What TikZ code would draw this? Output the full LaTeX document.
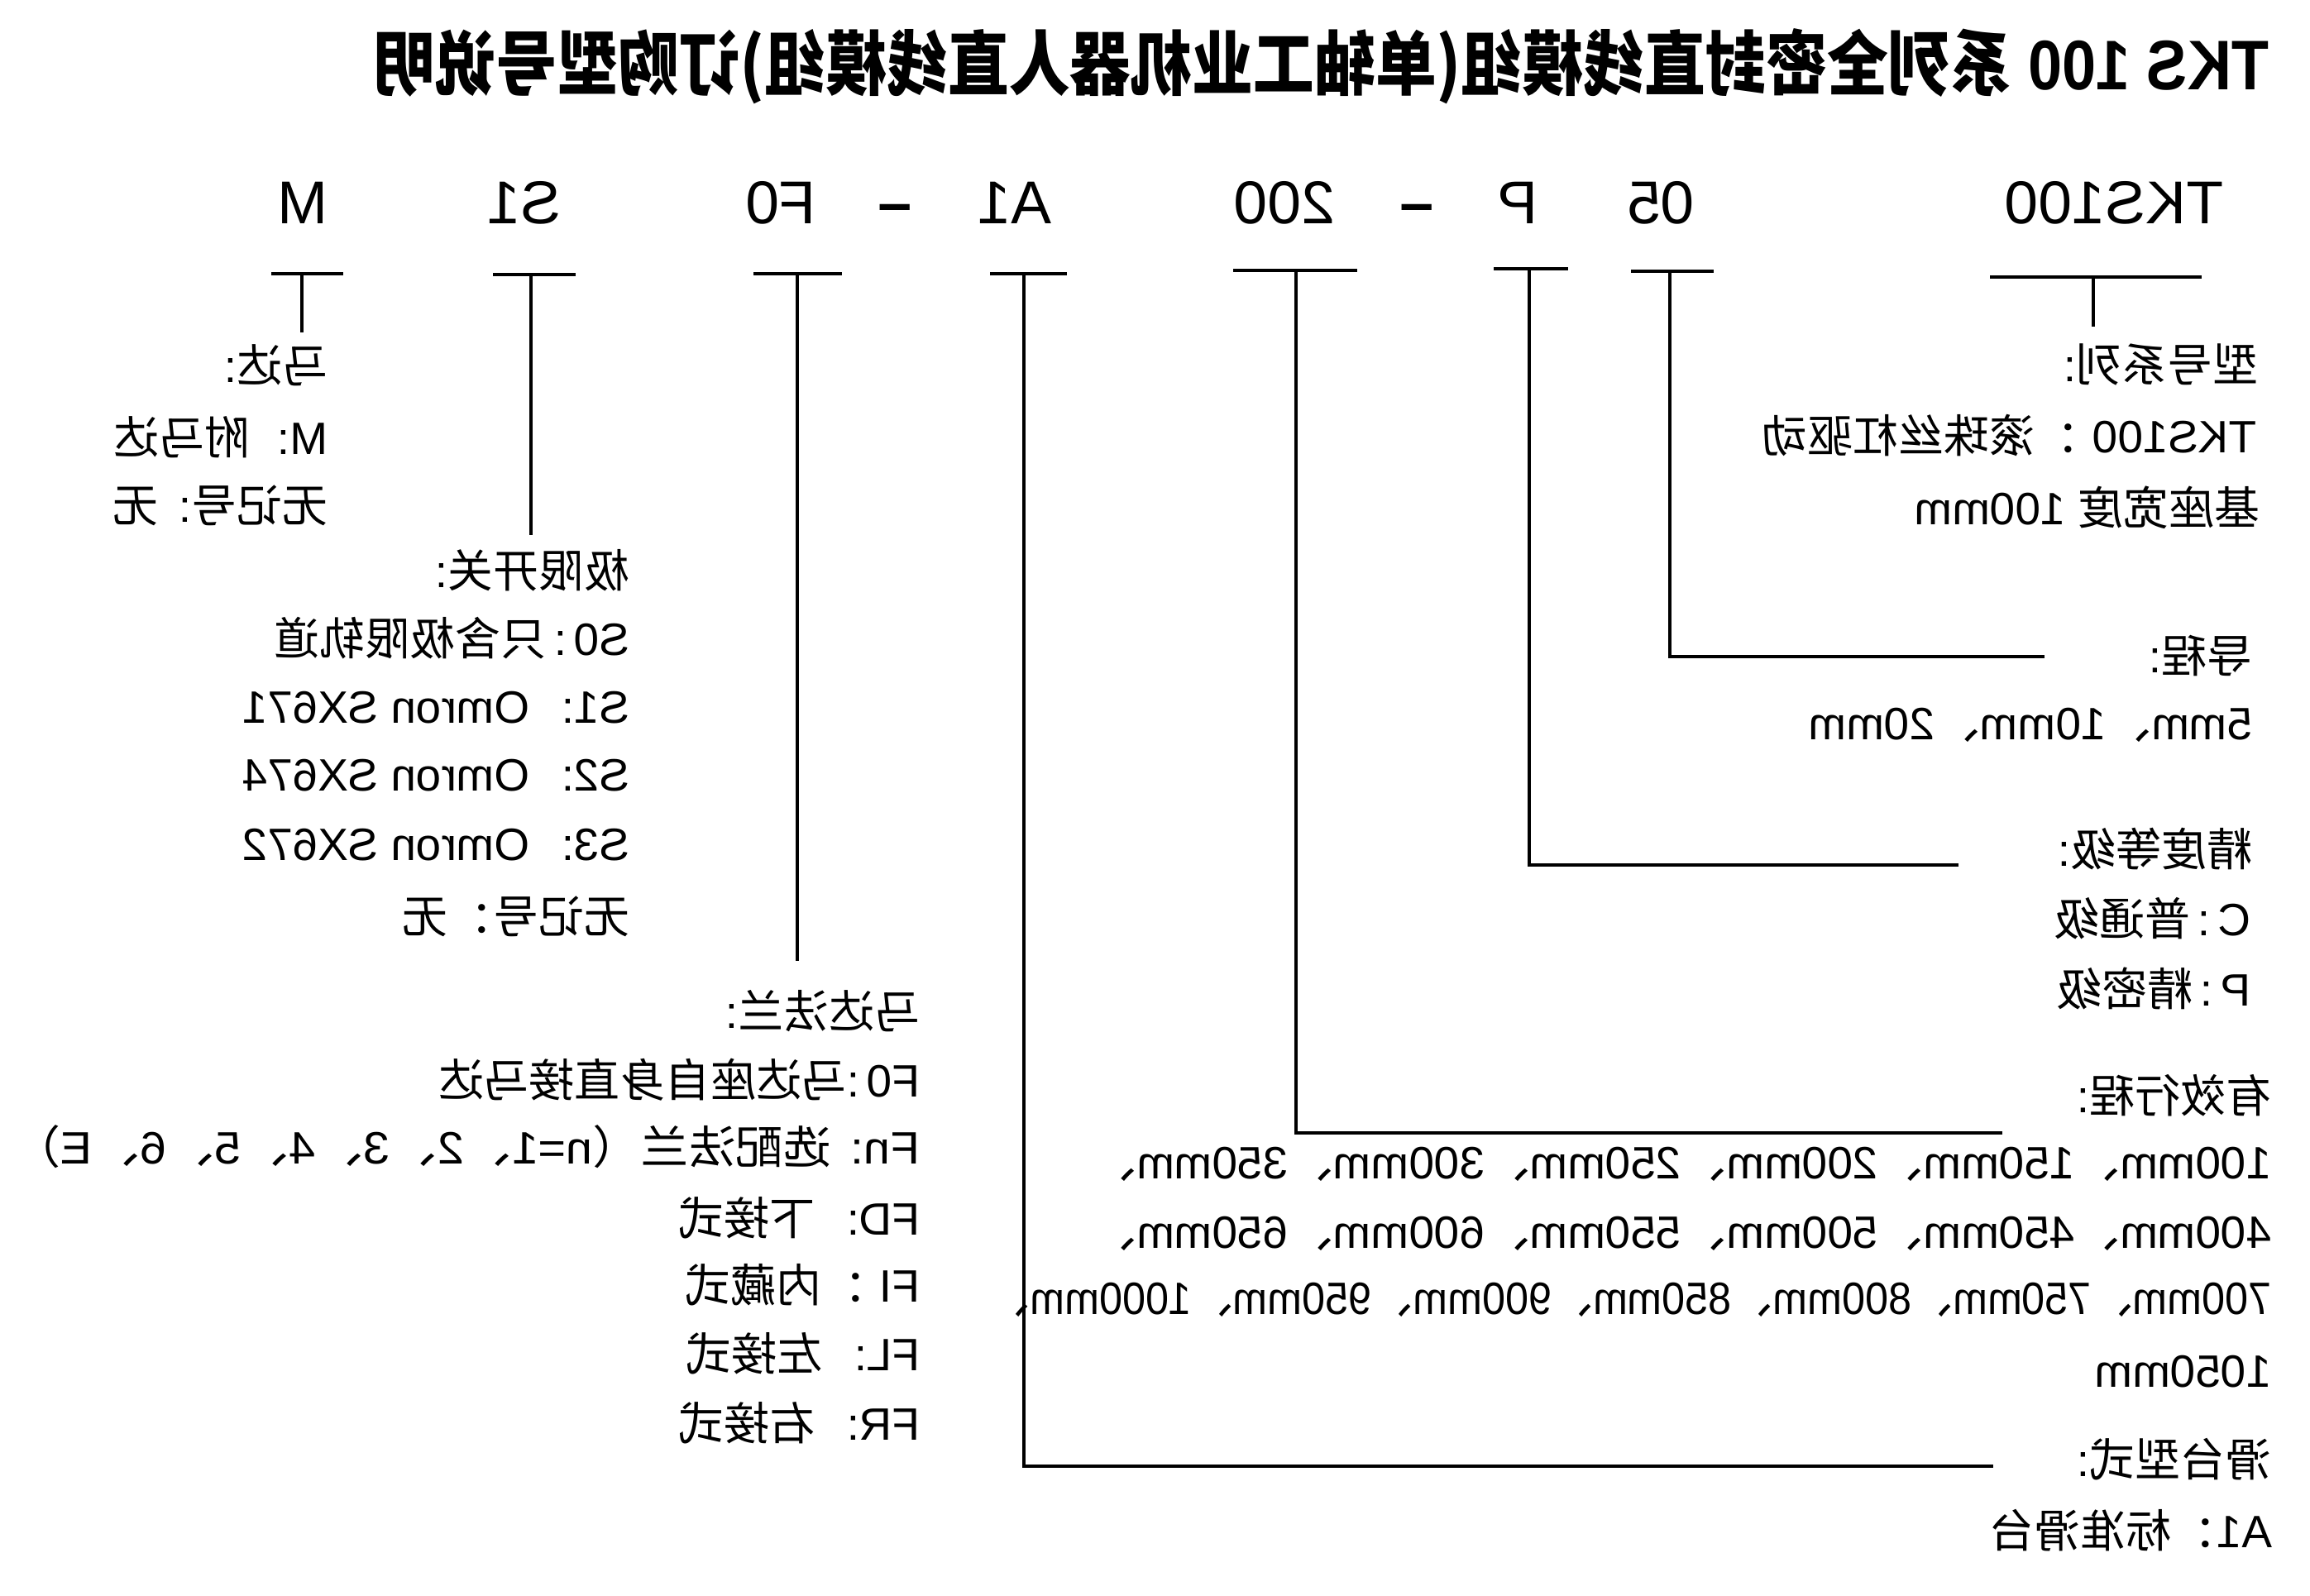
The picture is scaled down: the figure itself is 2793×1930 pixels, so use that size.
\documentclass[tikz,border=0pt]{standalone}
\usepackage{fontspec}
\setmainfont{Liberation Sans}
\newfontfamily\zh{Noto Sans CJK SC}

\begin{document}
\begin{tikzpicture}
  [x=0.01cm,y=-0.01cm,
   lbl/.style={xscale=-1,anchor=west,inner sep=0,font=\fontsize{15.6pt}{18pt}\selectfont},
   code/.style={xscale=-1,anchor=base,inner sep=0,font=\fontsize{20.8pt}{24pt}\selectfont},
   uline/.style={line width=1.2pt},
   conn/.style={line width=1pt}]
  \fill[white] (0,0) rectangle (2793,1930);

  % title and model code
  \node[lbl,yscale=1.15,font=\bfseries\fontsize{21pt}{24pt}\selectfont] (title) at (2744,80)
    {TKS 100 {\zh 系列全密封直线模组(单轴工业机器人直线模组)订购型号说明}};

  \node[code] (cM) at (366,270) {M};
  \node[code] (cS1) at (634,270) {S1};
  \node[code] (cF0) at (944,270) {F0};
  \node[code] (d1) at (1082,270) {\textbf{–}};
  \node[code] (cA1) at (1227,270) {A1};
  \node[code] (c200) at (1553,270) {200};
  \node[code] (d2) at (1713,270) {\textbf{–}};
  \node[code] (cP) at (1835,270) {P};
  \node[code] (c05) at (2008,270) {05};
  \node[code] (cTKS) at (2556,270) {TKS100};

  % underlines
  \coordinate (uM) at (365,331);
  \coordinate (uS1) at (642,332);
  \coordinate (uF0) at (964,331);
  \coordinate (uA1) at (1238,331);
  \coordinate (u200) at (1567,327);
  \coordinate (uP) at (1849,325);
  \coordinate (u05) at (2019,328);
  \coordinate (uTKS) at (2531,335);
  \draw[uline] (uM) ++(-37,0) -- ++(87,0);
  \draw[uline] (uS1) ++(-46,0) -- ++(100,0);
  \draw[uline] (uF0) ++(-53,0) -- ++(107,0);
  \draw[uline] (uA1) ++(-41,0) -- ++(93,0);
  \draw[uline] (u200) ++(-76,0) -- ++(150,0);
  \draw[uline] (uP) ++(-43,0) -- ++(90,0);
  \draw[uline] (u05) ++(-47,0) -- ++(100,0);
  \draw[uline] (uTKS) ++(-125,0) -- ++(256,0);

  % connector ends
  \coordinate (eM) at (365,402);
  \coordinate (eS1) at (642,647);
  \coordinate (eF0) at (964,1162);
  \coordinate (eA1) at (2410,1773);
  \coordinate (e200) at (2421,1370);
  \coordinate (eP) at (2368,1046);
  \coordinate (e05) at (2472,794);
  \coordinate (eTKS) at (2531,395);
  \draw[conn] (uM) -- (eM);
  \draw[conn] (uS1) -- (eS1);
  \draw[conn] (uF0) -- (eF0);
  \draw[conn] (uA1) |- (eA1);
  \draw[conn] (u200) |- (e200);
  \draw[conn] (uP) |- (eP);
  \draw[conn] (u05) |- (e05);
  \draw[conn] (uTKS) -- (eTKS);

  % right side
  \node[lbl] (ser) at (2731,441) {{\zh 型号系列}:};
  \node[lbl] (ser1) at (2729,527) {TKS100 {\zh ：滚珠丝杠驱动}};
  \node[lbl] (ser2) at (2733,614) {{\zh 基座宽度} 100mm};
  \node[lbl] (lead) at (2724,793) {{\zh 导程}:};
  \node[lbl] (lead1) at (2724,877) {5mm{\zh 、}10mm{\zh 、}20mm};
  \node[lbl] (acc) at (2724,1027) {{\zh 精度等级}:};
  \node[lbl] (acc1) at (2722,1111) {C\,:\,{\zh 普通级}};
  \node[lbl] (acc2) at (2722,1195) {P\,:\,{\zh 精密级}};
  \node[lbl] (str) at (2747,1325) {{\zh 有效行程}:};
  \node[lbl] (str1) at (2747,1408)
    {100mm{\zh 、}150mm{\zh 、}200mm{\zh 、}250mm{\zh 、}300mm{\zh 、}350mm{\zh 、}};
  \node[lbl] (str2) at (2747,1492)
    {400mm{\zh 、}450mm{\zh 、}500mm{\zh 、}550mm{\zh 、}600mm{\zh 、}650mm{\zh 、}};
  \node[lbl,xscale=0.915] (str3) at (2747,1572)
    {700mm{\zh 、}750mm{\zh 、}800mm{\zh 、}850mm{\zh 、}900mm{\zh 、}950mm{\zh 、}1000mm{\zh 、}};
  \node[lbl] (str4) at (2747,1659) {1050mm};
  \node[lbl] (sld) at (2747,1765) {{\zh 滑台型式}:};
  \node[lbl] (sld1) at (2748,1851) {A1{\zh ：标准滑台}};

  % left side
  \node[lbl] (mot) at (397,442) {{\zh 马达}:};
  \node[lbl] (mot1) at (397,529) {M:\hspace{0.6em}{\zh 附马达}};
  \node[lbl] (mot2) at (397,611) {{\zh 无记号}:\hspace{0.45em}{\zh 无}};
  \node[lbl] (lim) at (762,690) {{\zh 极限开关}:};
  \node[lbl] (lim0) at (762,772) {S0\,:\,{\zh 只含极限轨道}};
  \node[lbl] (lim1) at (762,856) {S1:\hspace{0.7em}Omron SX671};
  \node[lbl] (lim2) at (762,938) {S2:\hspace{0.7em}Omron SX674};
  \node[lbl] (lim3) at (762,1022) {S3:\hspace{0.7em}Omron SX672};
  \node[lbl] (lim4) at (762,1108) {{\zh 无记号：无}};
  \node[lbl] (fl) at (1113,1223) {{\zh 马达法兰}:};
  \node[lbl] (fl0) at (1113,1306) {F0\,:{\zh 马达座自身直接马达}};
  \node[lbl,xscale=1.053] (fl1) at (1113,1387)
    {Fn:\hspace{0.4em}{\zh 选配法兰（}n=1{\zh 、}2{\zh 、}3{\zh 、}4{\zh 、}5{\zh 、}6{\zh 、}E{\zh ）}};
  \node[lbl] (fl2) at (1113,1473) {FD:\hspace{0.7em}{\zh 下接式}};
  \node[lbl] (fl3) at (1113,1554) {FI\ {\zh ：内藏式}};
  \node[lbl] (fl4) at (1113,1637) {FL:\hspace{0.7em}{\zh 左接式}};
  \node[lbl] (fl5) at (1113,1721) {FR:\hspace{0.7em}{\zh 右接式}};

\end{tikzpicture}
\end{document}
